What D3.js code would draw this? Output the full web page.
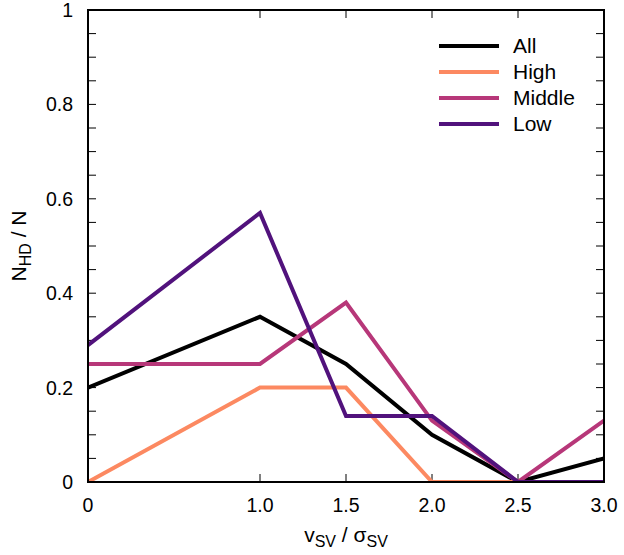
<!DOCTYPE html>
<html><head><meta charset="utf-8">
<script src="https://cdn.jsdelivr.net/npm/d3@7"></script>
<style>body{margin:0;background:#fff}svg{display:block}text{font-family:"Liberation Sans",Arial,sans-serif;fill:#000}</style>
</head><body>
<svg id="c" width="624" height="555"></svg>
<script>
const xValues = [0, 1.0, 1.5, 2.0, 2.5, 3.0];
const xTickLabels = ["0", "1.0", "1.5", "2.0", "2.5", "3.0"];
const yTickValues = [0, 0.2, 0.4, 0.6, 0.8, 1];
const yTickLabels = ["0", "0.2", "0.4", "0.6", "0.8", "1"];
const seriesNames = ["All", "High", "Middle", "Low"];
const seriesColors = ["#000000", "#fc8961", "#b73779", "#51127c"];
const allValues = [0.20, 0.35, 0.25, 0.10, 0.00, 0.05];
const highValues = [0.00, 0.20, 0.20, 0.00, 0.00, 0.00];
const middleValues = [0.25, 0.25, 0.38, 0.13, 0.00, 0.13];
const lowValues = [0.29, 0.57, 0.14, 0.14, 0.00, 0.00];
const seriesValues = [allValues, highValues, middleValues, lowValues];

const svg = d3.select("#c");
const L = 88, R = 604, T = 10, B = 482;
const x = d3.scaleLinear().domain([0, 3]).range([L, R]);
const y = d3.scaleLinear().domain([0, 1]).range([B, T]);
const minorY = d3.range(0, 1.0001, 0.05);

svg.append("defs").append("clipPath").attr("id","clip").append("rect")
  .attr("x", L).attr("y", T).attr("width", R-L).attr("height", B-T);

const tl = 8;
const g = svg.append("g");
xValues.slice(1, -1).forEach(v => {
  g.append("line").attr("x1", x(v)).attr("x2", x(v)).attr("y1", B).attr("y2", B - tl).attr("stroke","#000").attr("stroke-width",1);
  g.append("line").attr("x1", x(v)).attr("x2", x(v)).attr("y1", T).attr("y2", T + tl).attr("stroke","#000").attr("stroke-width",1);
});
minorY.slice(1, -1).forEach(v => {
  g.append("line").attr("x1", L).attr("x2", L + tl).attr("y1", y(v)).attr("y2", y(v)).attr("stroke","#000").attr("stroke-width",1);
  g.append("line").attr("x1", R).attr("x2", R - tl).attr("y1", y(v)).attr("y2", y(v)).attr("stroke","#000").attr("stroke-width",1);
});

const line = d3.line().x((d,i) => x(xValues[i])).y(d => y(d));
const lg = svg.append("g").attr("clip-path","url(#clip)");
seriesValues.forEach((vals, k) => {
  lg.append("path").datum(vals).attr("d", line).attr("fill","none")
    .attr("stroke", seriesColors[k]).attr("stroke-width", 4).attr("stroke-linejoin","miter");
});

svg.append("rect").attr("x", L).attr("y", T).attr("width", R-L).attr("height", B-T)
  .attr("fill","none").attr("stroke","#000").attr("stroke-width",2);

xValues.forEach((v,i) => {
  svg.append("text").attr("x", x(v)).attr("y", 512).attr("text-anchor","middle")
    .attr("font-size", 19.5).text(xTickLabels[i]);
});
yTickValues.forEach((v,i) => {
  svg.append("text").attr("x", 73).attr("y", y(v) + 7).attr("text-anchor","end")
    .attr("font-size", 19.5).text(yTickLabels[i]);
});

const xt = svg.append("text").attr("x", 346).attr("y", 542).attr("text-anchor","middle").attr("font-size", 21);
xt.append("tspan").text("v");
xt.append("tspan").attr("font-size", 16).attr("dy", 5).text("SV");
xt.append("tspan").attr("dy", -5).text(" / σ");
xt.append("tspan").attr("font-size", 16).attr("dy", 5).text("SV");

const yt = svg.append("text").attr("transform","translate(26,246) rotate(-90)").attr("text-anchor","middle").attr("font-size", 21);
yt.append("tspan").text("N");
yt.append("tspan").attr("font-size", 16).attr("dy", 5).text("HD");
yt.append("tspan").attr("dy", -5).text(" / N");

const legY = [46, 72, 98, 124];
seriesNames.forEach((n, k) => {
  svg.append("line").attr("x1", 439).attr("x2", 499).attr("y1", legY[k]).attr("y2", legY[k])
    .attr("stroke", seriesColors[k]).attr("stroke-width", 4);
  svg.append("text").attr("x", 513).attr("y", legY[k] + 7).attr("font-size", 21).text(n);
});
</script>
</body></html>
